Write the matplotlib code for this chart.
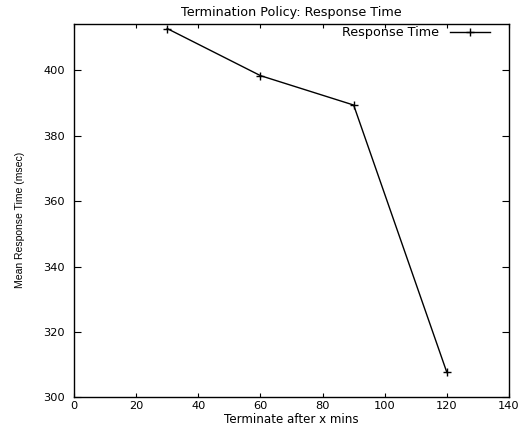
import matplotlib
matplotlib.use("Agg")
from matplotlib import pyplot as plt

plt.rcParams['font.family'] = ['DejaVu Sans']

# terminate-after (minutes) vs mean response time (msec)
minutes = [30, 60, 90, 120]
resp_time = [412.8, 398.4, 389.4, 307.6]

fig = plt.figure(figsize=(5.26, 4.26), dpi=100)
ax = fig.add_axes([0.1407, 0.0674, 0.8270, 0.8763])

ax.plot(minutes, resp_time, '-', color='black', lw=1.0,
        marker='+', markersize=6, markeredgewidth=1.0, label='Response Time')

ax.set_xlim(0, 140)
ax.set_ylim(300, 414.2)
ax.set_xticks(range(0, 141, 20))
ax.set_yticks(range(300, 401, 20))

ax.tick_params(direction='in', width=0.8, top=True, right=True, labelsize=8.2)
ax.tick_params(axis='x', length=3, pad=3)
ax.tick_params(axis='y', length=5, pad=6.5)
for s in ax.spines.values():
    s.set_linewidth(1.0)

ax.set_title('Termination Policy: Response Time', fontsize=9.2,
             y=1.032, va='center', pad=0)
ax.set_xlabel('Terminate after x mins', fontsize=8.6, va='center')
ax.xaxis.set_label_coords(0.5, -0.059)
ax.set_ylabel('Mean Response Time (msec)', fontsize=7.5, va='center',
              family=['Liberation Sans Narrow', 'Liberation Sans'])
ax.yaxis.set_label_coords(-0.124, 0.475)

leg = ax.legend(loc='upper right', bbox_to_anchor=(0.956, 0.9946),
                frameon=False, fontsize=9.2, borderpad=0, borderaxespad=0,
                handlelength=3.1, handletextpad=0.9, markerfirst=False)

fig.savefig('out.png', dpi=100)
